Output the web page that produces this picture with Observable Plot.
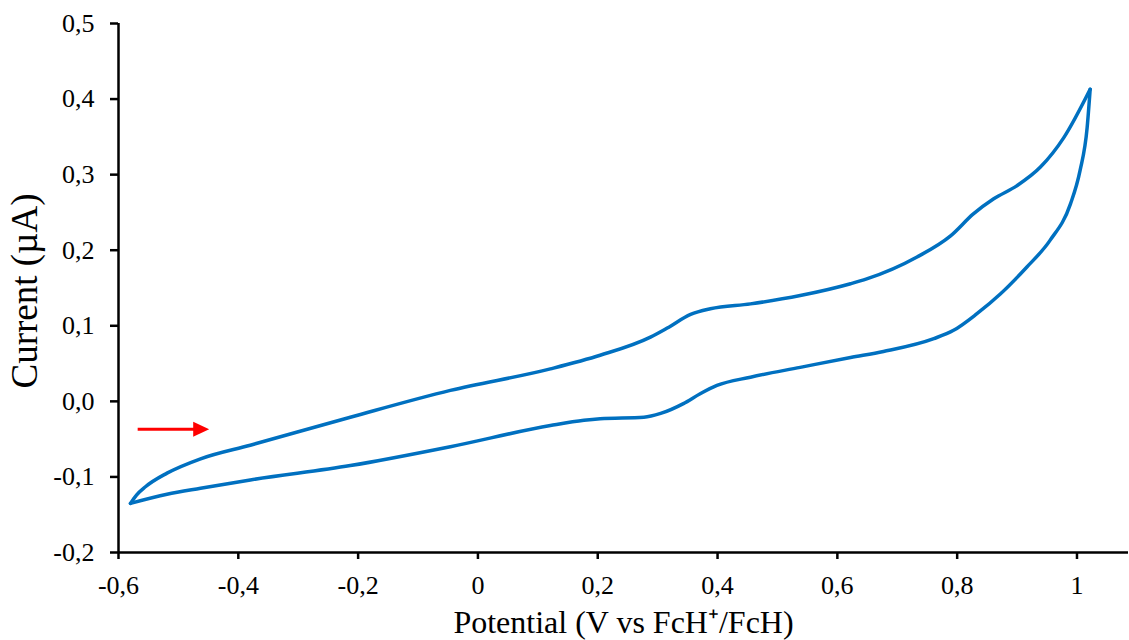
<!DOCTYPE html>
<html>
<head>
<meta charset="utf-8">
<script src="https://cdn.jsdelivr.net/npm/d3@7"></script>
<script src="https://cdn.jsdelivr.net/npm/@observablehq/plot@0.6"></script>
<style>
  html, body { margin: 0; padding: 0; background: white; }
  #chart { width: 1129px; height: 640px; }
</style>
</head>
<body>
<div id="chart"></div>
<script>
// Forward (anodic) scan: potential (V) and current (µA)
const forwardE = [-0.580, -0.570, -0.555, -0.519, -0.463, -0.380, -0.213, -0.046, 0.121, 0.204, 0.288, 0.316, 0.355, 0.388, 0.455, 0.538, 0.622, 0.649, 0.733, 0.789, 0.827, 0.861, 0.900, 0.939, 0.978, 1.022];
const forwardI = [-0.135, -0.124, -0.113, -0.095, -0.076, -0.058, -0.021, 0.0145, 0.043, 0.061, 0.085, 0.097, 0.115, 0.1225, 0.129, 0.140, 0.1556, 0.162, 0.191, 0.219, 0.248, 0.268, 0.2855, 0.310, 0.349, 0.413];
// Reverse (cathodic) scan
const reverseE = [1.022, 1.017, 1.005, 0.989, 0.955, 0.916, 0.872, 0.833, 0.794, 0.761, 0.677, 0.622, 0.538, 0.455, 0.399, 0.371, 0.343, 0.305, 0.277, 0.204, 0.177, 0.121, -0.046, -0.213, -0.380, -0.463, -0.519, -0.580];
const reverseI = [0.413, 0.3625, 0.305, 0.261, 0.213, 0.1775, 0.142, 0.116, 0.094, 0.083, 0.066, 0.058, 0.045, 0.032, 0.021, 0.010, -0.003, -0.016, -0.021, -0.023, -0.025, -0.032, -0.060, -0.085, -0.104, -0.115, -0.123, -0.135];

// Axis ticks and labels
const xTicks = [-0.6, -0.4, -0.2, 0, 0.2, 0.4, 0.6, 0.8, 1];
const xTickLabels = ["-0,6", "-0,4", "-0,2", "0", "0,2", "0,4", "0,6", "0,8", "1"];
const yTicks = [-0.2, -0.1, 0, 0.1, 0.2, 0.3, 0.4, 0.5];
const yTickLabels = ["-0,2", "-0,1", "0,0", "0,1", "0,2", "0,3", "0,4", "0,5"];
const xDomain = [-0.6, 1.086];
const yDomain = [-0.2, 0.5];

const xLabel = "Potential (V vs FcH\u207A/FcH)";
const yLabel = "Current (\u00B5A)";

// Scan direction arrow (data units)
const arrowE = [-0.568, -0.462];
const arrowI = [-0.037, -0.037];

const forward = forwardE.map((e, i) => ({x: e, y: forwardI[i]}));
const reverse = reverseE.map((e, i) => ({x: e, y: reverseI[i]})).sort((a, b) => a.x - b.x);

const rightTriangle = {
  draw(context, size) {
    const r = Math.sqrt(size / Math.PI);
    context.moveTo(1.14 * r, 0);
    context.lineTo(-1.14 * r, -1.07 * r);
    context.lineTo(-1.14 * r, 1.07 * r);
    context.closePath();
  }
};

const fmtX = d => xTickLabels[xTicks.findIndex(t => Math.abs(t - d) < 1e-9)];
const fmtY = d => yTickLabels[yTicks.findIndex(t => Math.abs(t - d) < 1e-9)];

const blue = "#0070C0";

const chart = Plot.plot({
  width: 1129,
  height: 640,
  marginLeft: 118,
  marginRight: 1,
  marginTop: 23,
  marginBottom: 88,
  x: {domain: xDomain},
  y: {domain: yDomain},
  style: {fontFamily: "'Liberation Serif', 'Times New Roman', serif", background: "white", color: "black"},
  marks: [
    Plot.axisY({ticks: yTicks, tickFormat: fmtY, tickSize: 8, tickPadding: 16, fontSize: 26, strokeWidth: 2.5, label: null}),
    Plot.axisX({ticks: xTicks, tickFormat: fmtX, tickSize: 7, tickPadding: 16, fontSize: 26, strokeWidth: 2.5, label: null}),
    Plot.ruleX([xDomain[0]], {stroke: "black", strokeWidth: 2.5}),
    Plot.ruleY([yDomain[0]], {stroke: "black", strokeWidth: 2.5}),
    Plot.line(forward, {x: "x", y: "y", stroke: blue, strokeWidth: 3.5, curve: "monotone-x", strokeLinejoin: "round"}),
    Plot.line(reverse, {x: "x", y: "y", stroke: blue, strokeWidth: 3.5, curve: "monotone-x", strokeLinejoin: "round"}),
    Plot.link([0], {x1: () => arrowE[0], x2: () => arrowE[1] - 0.004, y1: () => arrowI[0], y2: () => arrowI[1], stroke: "#FF0000", strokeWidth: 3}),
    Plot.dot([0], {x: () => arrowE[1], y: () => arrowI[1], symbol: rightTriangle, r: 7, fill: "#FF0000", stroke: "none"}),
    Plot.text([xLabel], {frameAnchor: "bottom", dy: 70, text: d => d, fontSize: 32, lineAnchor: "middle", textAnchor: "middle", fill: "black"}),
    Plot.text([yLabel], {frameAnchor: "left", dx: -93, dy: 3, text: d => d, fontSize: 37, rotate: -90, lineAnchor: "middle", textAnchor: "middle", fill: "black"})
  ]
});
document.getElementById("chart").appendChild(chart);
</script>
</body>
</html>
